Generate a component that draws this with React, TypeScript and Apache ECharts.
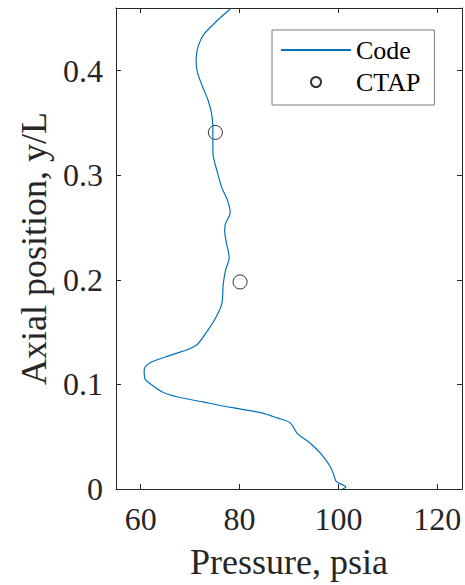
import React, { useEffect, useRef } from "react";
import * as echarts from "echarts";

const xTicks = [60, 80, 100, 120];
const yTicks = [0, 0.1, 0.2, 0.3, 0.4];

// Code: [pressure (psia), axial position y/L]
const codeData: [number, number][] = [
  [78.1, 0.459], [75.5, 0.448], [72.8, 0.435], [71.6, 0.423], [71.2, 0.41],
  [71.5, 0.398], [72.5, 0.385], [73.6, 0.372], [74.3, 0.36], [74.6, 0.347],
  [74.6, 0.335], [74.6, 0.322], [75.5, 0.303], [76.5, 0.287], [77.4, 0.278],
  [78.1, 0.265], [77.9, 0.261], [77.1, 0.253], [77.0, 0.246], [77.4, 0.234],
  [77.9, 0.221], [77.2, 0.21], [76.7, 0.196], [76.4, 0.177], [75.2, 0.164],
  [73.6, 0.152], [71.1, 0.137], [66.1, 0.128], [62.0, 0.121], [60.7, 0.114],
  [60.8, 0.106], [62.7, 0.098], [64.7, 0.092], [67.5, 0.088], [72.8, 0.083],
  [78.2, 0.078], [84.3, 0.073], [87.6, 0.068], [90.3, 0.063], [91.7, 0.053],
  [94.0, 0.045], [96.4, 0.034], [98.4, 0.021], [99.1, 0.013], [99.6, 0.007],
  [101.5, 0.002], [100.8, 0.0],
];

const ctapData: [number, number][] = [
  [75.1, 0.341],
  [80.1, 0.198],
];

const FONT = "Liberation Serif";
const INK = "#262626";

export default function App() {
  const ref = useRef<HTMLDivElement>(null);
  useEffect(() => {
    if (!ref.current) return;
    const chart = echarts.init(ref.current, null, { renderer: "svg" });
    const tickCommon = { show: true, inside: true, length: 5, lineStyle: { color: INK, width: 1 } };
    chart.setOption({
      animation: false,
      backgroundColor: "#ffffff",
      grid: { left: 116, right: 3, top: 8, bottom: 91, containLabel: false },
      legend: {
        left: 272,
        top: 30,
        orient: "vertical",
        backgroundColor: "#ffffff",
        borderColor: "#7a7a7a",
        borderWidth: 1,
        borderRadius: 0,
        padding: [7, 14, 10, 8],
        itemWidth: 70,
        itemHeight: 10,
        itemGap: 6,
        textStyle: { fontFamily: FONT, fontSize: 26, color: "#000" },
        data: [
          { name: "Code", itemStyle: { opacity: 0 } },
          { name: "CTAP" },
        ],
      },
      xAxis: [
        {
          type: "value",
          min: 55,
          max: 125,
          name: "Pressure, psia",
          nameLocation: "middle",
          nameGap: 55,
          nameTextStyle: { fontFamily: FONT, fontSize: 36, color: INK },
          axisLine: { show: true, lineStyle: { color: INK, width: 1 } },
          axisTick: { ...tickCommon, customValues: xTicks },
          axisLabel: { customValues: xTicks, fontFamily: FONT, fontSize: 32, color: INK, margin: 14 },
          splitLine: { show: false },
        },
        {
          type: "value",
          position: "top",
          min: 55,
          max: 125,
          axisLine: { show: true, onZero: false, lineStyle: { color: INK, width: 1 } },
          axisTick: { ...tickCommon, customValues: xTicks },
          axisLabel: { show: false },
          splitLine: { show: false },
        },
      ],
      yAxis: [
        {
          type: "value",
          min: 0,
          max: 0.46,
          name: "Axial position, y/L",
          nameLocation: "middle",
          nameGap: 55,
          nameTextStyle: { fontFamily: FONT, fontSize: 36, color: INK },
          axisLine: { show: true, lineStyle: { color: INK, width: 1 } },
          axisTick: { ...tickCommon, customValues: yTicks },
          axisLabel: { customValues: yTicks, fontFamily: FONT, fontSize: 32, color: INK, margin: 13 },
          splitLine: { show: false },
        },
        {
          type: "value",
          position: "right",
          min: 0,
          max: 0.46,
          axisLine: { show: true, onZero: false, lineStyle: { color: INK, width: 1 } },
          axisTick: { ...tickCommon, customValues: yTicks },
          axisLabel: { show: false },
          splitLine: { show: false },
        },
      ],
      series: [
        {
          name: "Code",
          type: "line",
          xAxisIndex: 0,
          yAxisIndex: 0,
          data: codeData,
          symbol: "none",
          smooth: 0.3,
          lineStyle: { color: "#0072BD", width: 1.2 },
          itemStyle: { color: "#0072BD" },
        },
        {
          name: "CTAP",
          type: "scatter",
          xAxisIndex: 0,
          yAxisIndex: 0,
          data: ctapData,
          symbol: "circle",
          symbolSize: 14,
          itemStyle: { color: "rgba(0,0,0,0)", borderColor: "#000", borderWidth: 1 },
        },
      ],
    });
    return () => chart.dispose();
  }, []);
  return (
    <div
      ref={ref}
      style={{ position: "absolute", left: 0, top: 0, width: 465, height: 585 }}
    />
  );
}
